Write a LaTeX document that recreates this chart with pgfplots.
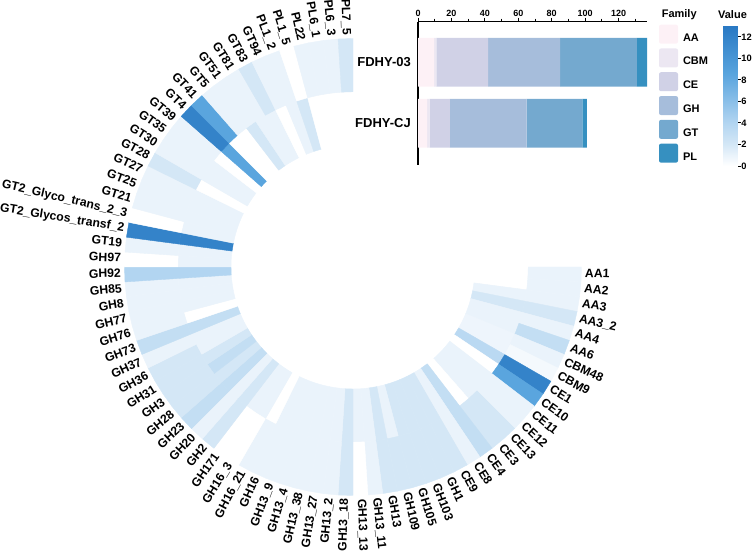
\documentclass[border=0pt]{standalone}
\usepackage{fontspec}
\setmainfont{Liberation Sans}
\usepackage{pgfplots}
\usepackage{pgfplotstable}
\pgfplotsset{compat=1.18}
\definecolor{ccAA}{HTML}{FDF1F6}
\definecolor{ccCBM}{HTML}{ECE7F2}
\definecolor{ccCE}{HTML}{D0D1E6}
\definecolor{ccGH}{HTML}{A6BDDB}
\definecolor{ccGT}{HTML}{74A9CF}
\definecolor{ccPL}{HTML}{3690C0}
\newcommand\lab{\bfseries\fontsize{12.2}{14}\selectfont}

% cell values, clockwise from AA1 (index k = 0..71, k = 72 closes the mesh)
% scanline 1: inner ring (FDHY-CJ); scanline 2: outer ring (FDHY-03); scanline 3: outer border
\pgfplotstableread[row sep=\\]{v\\
0\\0\\1\\2\\1\\1\\0.8\\0.8\\3.5\\0\\
1\\1\\1\\0\\3\\1\\2\\2\\2\\2\\
1\\2\\1\\1\\2\\1\\1\\1\\1\\1\\
1\\0\\1\\1\\2\\1\\3\\2\\3\\2\\
1\\1\\3\\0\\1\\1\\1\\4\\1\\1\\
12\\1\\1\\1\\1\\0\\1\\1\\0\\8.5\\
0\\0\\2\\1\\1\\0\\1\\2\\0\\0\\
0\\0\\0\\
1\\1\\1\\2\\1\\3\\1\\0.5\\12\\8.5\\
1\\1\\2\\2\\3\\1\\2\\2\\2\\2\\
2\\2\\1\\0\\2\\1\\1\\1\\1\\1\\
1\\1\\0\\0\\2\\1\\3\\2\\2\\2\\
2\\1\\3\\1\\1\\1\\1\\4\\0\\1\\
12\\0\\1\\1\\1\\2\\1\\1\\1\\12\\
8.5\\1\\1\\1\\2\\1\\1\\0\\1\\1\\
1\\2\\0\\
0\\0\\0\\0\\0\\0\\0\\0\\0\\0\\
0\\0\\0\\0\\0\\0\\0\\0\\0\\0\\
0\\0\\0\\0\\0\\0\\0\\0\\0\\0\\
0\\0\\0\\0\\0\\0\\0\\0\\0\\0\\
0\\0\\0\\0\\0\\0\\0\\0\\0\\0\\
0\\0\\0\\0\\0\\0\\0\\0\\0\\0\\
0\\0\\0\\0\\0\\0\\0\\0\\0\\0\\
0\\0\\0\\
}\ringdata

\begin{document}
\begin{tikzpicture}[x=1pt,y=1pt]
\useasboundingbox (0,0) rectangle (753,552);
\begin{axis}[at={(0pt,0pt)}, anchor=south west, x=1pt, y=1pt,
  xmin=0, xmax=753, ymin=0, ymax=552, hide axis,
  colormap={ringmap}{rgb255(0pt)=(255,255,255); rgb255(10pt)=(234,243,251);
     rgb255(20pt)=(212,231,246); rgb255(40pt)=(178,213,241);
     rgb255(85pt)=(90,165,222); rgb255(131pt)=(40,120,195)},
  point meta min=0, point meta max=13.1,
  colorbar,
  colorbar style={at={(parent axis.south west)}, anchor=south west,
     xshift=714.7pt, yshift=386pt, width=15pt, height=141pt, scale only axis,
     axis line style={draw=none}, ytick={0,2,4,6,8,10,12},
     ytick pos=right, yticklabel pos=right, tick align=outside,
     major tick length=2.6pt, tick style={black, line width=0.9pt},
     yticklabel style={font=\bfseries\fontsize{9.3}{10}\selectfont, inner sep=0.4pt},
     /pgf/number format/assume math mode=true}]
\addplot[surf, shader=flat corner, mesh/cols=73, mesh/rows=3, point meta=explicit]
  table[x index=0, y index=0,
        x expr={353+(122+53.25*floor(\coordindex/73))*cos(-3.75*mod(\coordindex,73))},
        y expr={285+(122+53.25*floor(\coordindex/73))*sin(-3.75*mod(\coordindex,73))},
        meta index=0] {\ringdata};
\end{axis}

\begin{axis}[at={(418pt,387pt)}, anchor=south west, width=229pt, height=141pt, scale only axis,
  xbar stacked, bar width=0.8, xmin=0, xmax=137, ymin=0.333, ymax=2.683, y dir=reverse,
  axis x line*=top, axis y line*=left, axis line style={line width=1.3pt, -},
  xtick={0,20,...,120}, minor x tick num=1, extra x ticks={130}, extra x tick labels={},
  extra x tick style={major tick length=3pt},
  tick align=outside, major tick length=4pt, minor tick length=3pt,
  xtick style={black, line width=1pt},
  ytick={1,2}, yticklabels={FDHY-03,FDHY-CJ}, ytick style={draw=none},
  xticklabel style={font=\bfseries\fontsize{9}{10}\selectfont, inner sep=1pt},
  yticklabel style={font=\bfseries\fontsize{13}{14}\selectfont, inner sep=3pt},
  /pgf/number format/assume math mode=true,
  legend image code/.code={\fill[#1, rounded corners=2pt] (0pt,-5.6pt) rectangle (19pt,13.4pt);},
  legend cell align=left,
  legend style={at={(1,1)}, anchor=north west, xshift=12pt, yshift=-3pt, draw=none, fill=none,
     inner sep=0pt, outer sep=0pt, row sep=4.8pt,
     nodes={inner sep=0pt, font=\bfseries\fontsize{11}{12}\selectfont},
     /tikz/every odd column/.append style={column sep=5pt}}]
\addplot[fill=ccAA, draw=none] coordinates {(9.6,1) (5.4,2)};
\addplot[fill=ccCBM, draw=none] coordinates {(1.4,1) (1.6,2)};
\addplot[fill=ccCE, draw=none] coordinates {(31,1) (12,2)};
\addplot[fill=ccGH, draw=none] coordinates {(43,1) (46,2)};
\addplot[fill=ccGT, draw=none] coordinates {(46,1) (33.4,2)};
\addplot[fill=ccPL, draw=none] coordinates {(6,1) (2.6,2)};
\legend{AA,CBM,CE,GH,GT,PL}
\end{axis}

\node[font=\bfseries\fontsize{11}{12}\selectfont] at (679.2,537) {Family};
\node[font=\bfseries\fontsize{11}{12}\selectfont] at (732.5,537) {Value};

\foreach \n [count=\i from 0] in {AA1,AA2,AA3,AA3\_2,AA4,AA6,CBM48,CBM9,CE1,CE10,CE11,CE12,CE13,CE3,CE4,CE8,CE9,
  GH1,GH103,GH105,GH109,GH13,GH13\_11,GH13\_13,GH13\_18,GH13\_2,GH13\_27,GH13\_38,GH13\_4,GH13\_9,
  GH16,GH16\_21,GH16\_3,GH171,GH2,GH20,GH23,GH28,GH3,GH31,GH36,GH37,GH73,GH76,GH77,GH8,GH85,GH92,GH97,
  GT19,GT2\_Glycos\_transf\_2,GT2\_Glyco\_trans\_2\_3,GT21,GT25,GT27,GT28,GT30,GT35,GT39,GT4,GT41,GT5,
  GT51,GT81,GT83,GT94,PL1\_2,PL1\_5,PL22,PL6\_1,PL6\_3,PL7\_5}{
  \pgfmathsetmacro\a{-(\i+0.5)*3.75}
  \ifnum\i<24
    \node[font=\lab, inner sep=0pt, rotate=\a, anchor=mid west] at ({353+232*cos(\a)},{285+232*sin(\a)}) {\n};
  \else
    \pgfmathsetmacro\b{\a+180}
    \node[font=\lab, inner sep=0pt, rotate=\b, anchor=mid east] at ({353+232*cos(\a)},{285+232*sin(\a)}) {\n};
  \fi
}
\end{tikzpicture}
\end{document}
